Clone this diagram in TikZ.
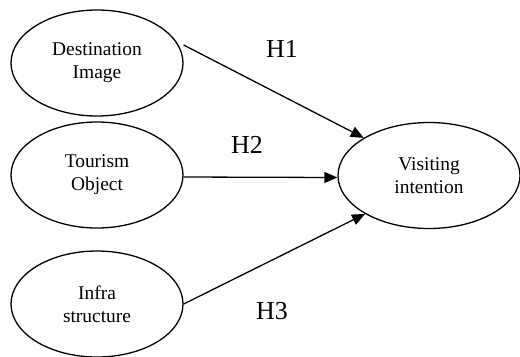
\documentclass[tikz,border=0pt]{standalone}
\usepackage{fontspec}
\setmainfont{Liberation Serif}
\usetikzlibrary{shapes.geometric,arrows.meta}
\tikzset{
  construct/.style={ellipse, draw, line width=1.3bp, minimum width=172bp, minimum height=106bp, inner sep=0pt, align=center, font=\fontsize{19.5}{23}\selectfont},
  path/.style={line width=1.3bp, -{Triangle[length=13bp,width=11bp]}},
  hyp/.style={font=\fontsize{26}{28}\selectfont, inner sep=0pt}
}
\begin{document}
\begin{tikzpicture}[x=1bp,y=-1bp]
\useasboundingbox (0,0) rectangle (520,356);
\node[construct] (DI) at (97,63) {Destination\\Image};
\node[construct] (TO) at (97,175) {Tourism\\Object};
\node[construct] (IS) at (97,304) {Infra\\structure};
\node[construct, minimum width=182bp] (VI) at (429,175.5) {Visiting\\intention};
\draw[path] ([yshift=18bp]DI.east) -- (VI.150);
\draw[path] ([yshift=-2bp]TO.east) -- ([yshift=-2bp]VI.west);
\draw[path] (IS.east) -- (VI.211);
\node[hyp] (H1) at (282,49) {H1};
\node[hyp] (H2) at (247,145) {H2};
\node[hyp] (H3) at (272,311) {H3};
\end{tikzpicture}
\end{document}
